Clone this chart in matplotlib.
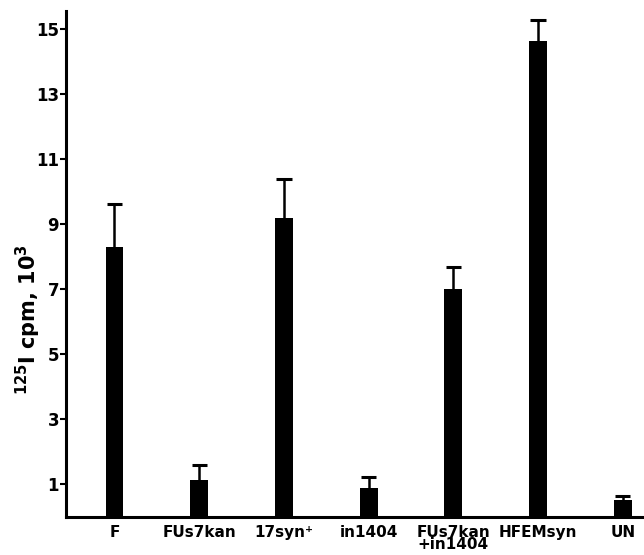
import numpy as np
import matplotlib
matplotlib.use("Agg")
import matplotlib.pyplot as plt

plt.rcParams['font.family'] = ['DejaVu Sans']
plt.rcParams['font.weight'] = 'bold'

labels = ["F", "FUs7kan", "17syn\u207a", "in1404", "FUs7kan\n+in1404", "HFEMsyn", "UN"]
cpm = [8.30, 1.15, 9.17, 0.90, 7.0, 14.63, 0.52]
err = [1.33, 0.44, 1.20, 0.33, 0.68, 0.64, 0.12]

fig = plt.figure(figsize=(6.44, 5.55), dpi=100)
ax = fig.add_axes([0.1025, 0.0685, 0.8975, 0.912])

x = np.arange(len(labels))
top = np.array(cpm) + np.array(err)
ax.bar(x, cpm, width=0.21, color='black')
# upper error bars only
ax.vlines(x, cpm, top, color='black', linewidth=1.8)
ax.hlines(top, x - 0.09, x + 0.09, color='black', linewidth=2.2)

ax.set_xlim(-0.572, 6.25)
ax.set_ylim(0, 15.55)
ax.set_yticks([1, 3, 5, 7, 9, 11, 13, 15])
ax.set_xticks(x)
ax.set_xticklabels(labels, fontsize=11, fontweight='bold', linespacing=0.75)
ax.tick_params(axis='x', length=0, pad=6)
ax.tick_params(axis='y', length=4, width=1.5, pad=1, labelsize=12)
for t in ax.get_yticklabels():
    t.set_fontweight('bold')

for s in ['top', 'right']:
    ax.spines[s].set_visible(False)
ax.spines['left'].set_linewidth(2.2)
ax.spines['bottom'].set_linewidth(2.2)

ax.set_ylabel("$^{\\mathbf{125}}$I cpm, 10$^{\\mathbf{3}}$", fontsize=15,
              fontweight='bold')
ax.yaxis.set_label_coords(-0.04, 0.39)

fig.savefig("out.png", dpi=100)
